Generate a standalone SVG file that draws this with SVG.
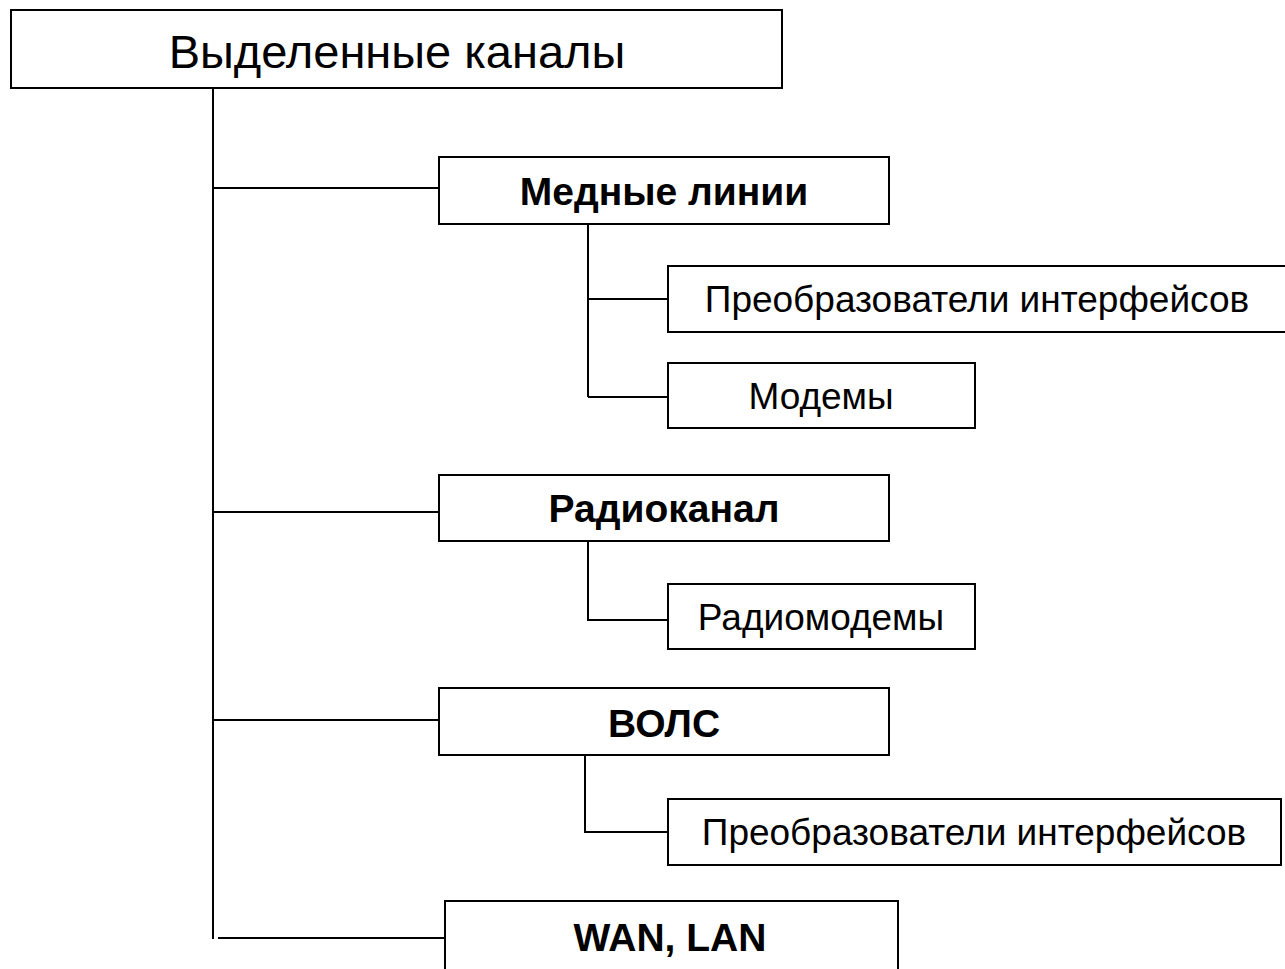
<svg xmlns="http://www.w3.org/2000/svg" width="1285" height="969" viewBox="0 0 1285 969">
<style>
.box{fill:#fff;stroke:#000;stroke-width:2}
.ln{fill:none;stroke:#000;stroke-width:2}
.t{font-family:"Liberation Sans",Arial,sans-serif;fill:#000;text-anchor:middle}
.b{font-weight:bold;font-size:39px}
.r{font-size:37px}
</style>
<rect width="1285" height="969" fill="#fff"/>
<g id="connectors">
<path class="ln" d="M213,88 V939 M213,188 H439 M213,512 H439 M213,720 H439 M218,938 H445"/>
<path class="ln" d="M588,224 V397 M588,299 H668 M588,397 H668"/>
<path class="ln" d="M588,541 V620 H668"/>
<path class="ln" d="M585,755 V832 H668"/>
</g>
<g id="root"><rect class="box" x="11" y="10" width="771" height="78"/><text class="t" x="397" y="68" font-size="47">Выделенные каналы</text></g>
<g id="copper"><rect class="box" x="439" y="157" width="450" height="67"/><text class="t b" x="664" y="205">Медные линии</text></g>
<g id="conv1"><rect class="box" x="668" y="266" width="630" height="66"/><text class="t r" x="977" y="312">Преобразователи интерфейсов</text></g>
<g id="modems"><rect class="box" x="668" y="363" width="307" height="65"/><text class="t r" x="821" y="409">Модемы</text></g>
<g id="radio"><rect class="box" x="439" y="475" width="450" height="66"/><text class="t b" x="664" y="522">Радиоканал</text></g>
<g id="radiomodems"><rect class="box" x="668" y="584" width="307" height="65"/><text class="t r" x="821" y="630">Радиомодемы</text></g>
<g id="fiber"><rect class="box" x="439" y="688" width="450" height="67"/><text class="t b" x="664" y="737">ВОЛС</text></g>
<g id="conv2"><rect class="box" x="668" y="799" width="613" height="66"/><text class="t r" x="974" y="845">Преобразователи интерфейсов</text></g>
<g id="wanlan"><rect class="box" x="445" y="901" width="453" height="100"/><text class="t b" x="670" y="951">WAN, LAN</text></g>
</svg>
